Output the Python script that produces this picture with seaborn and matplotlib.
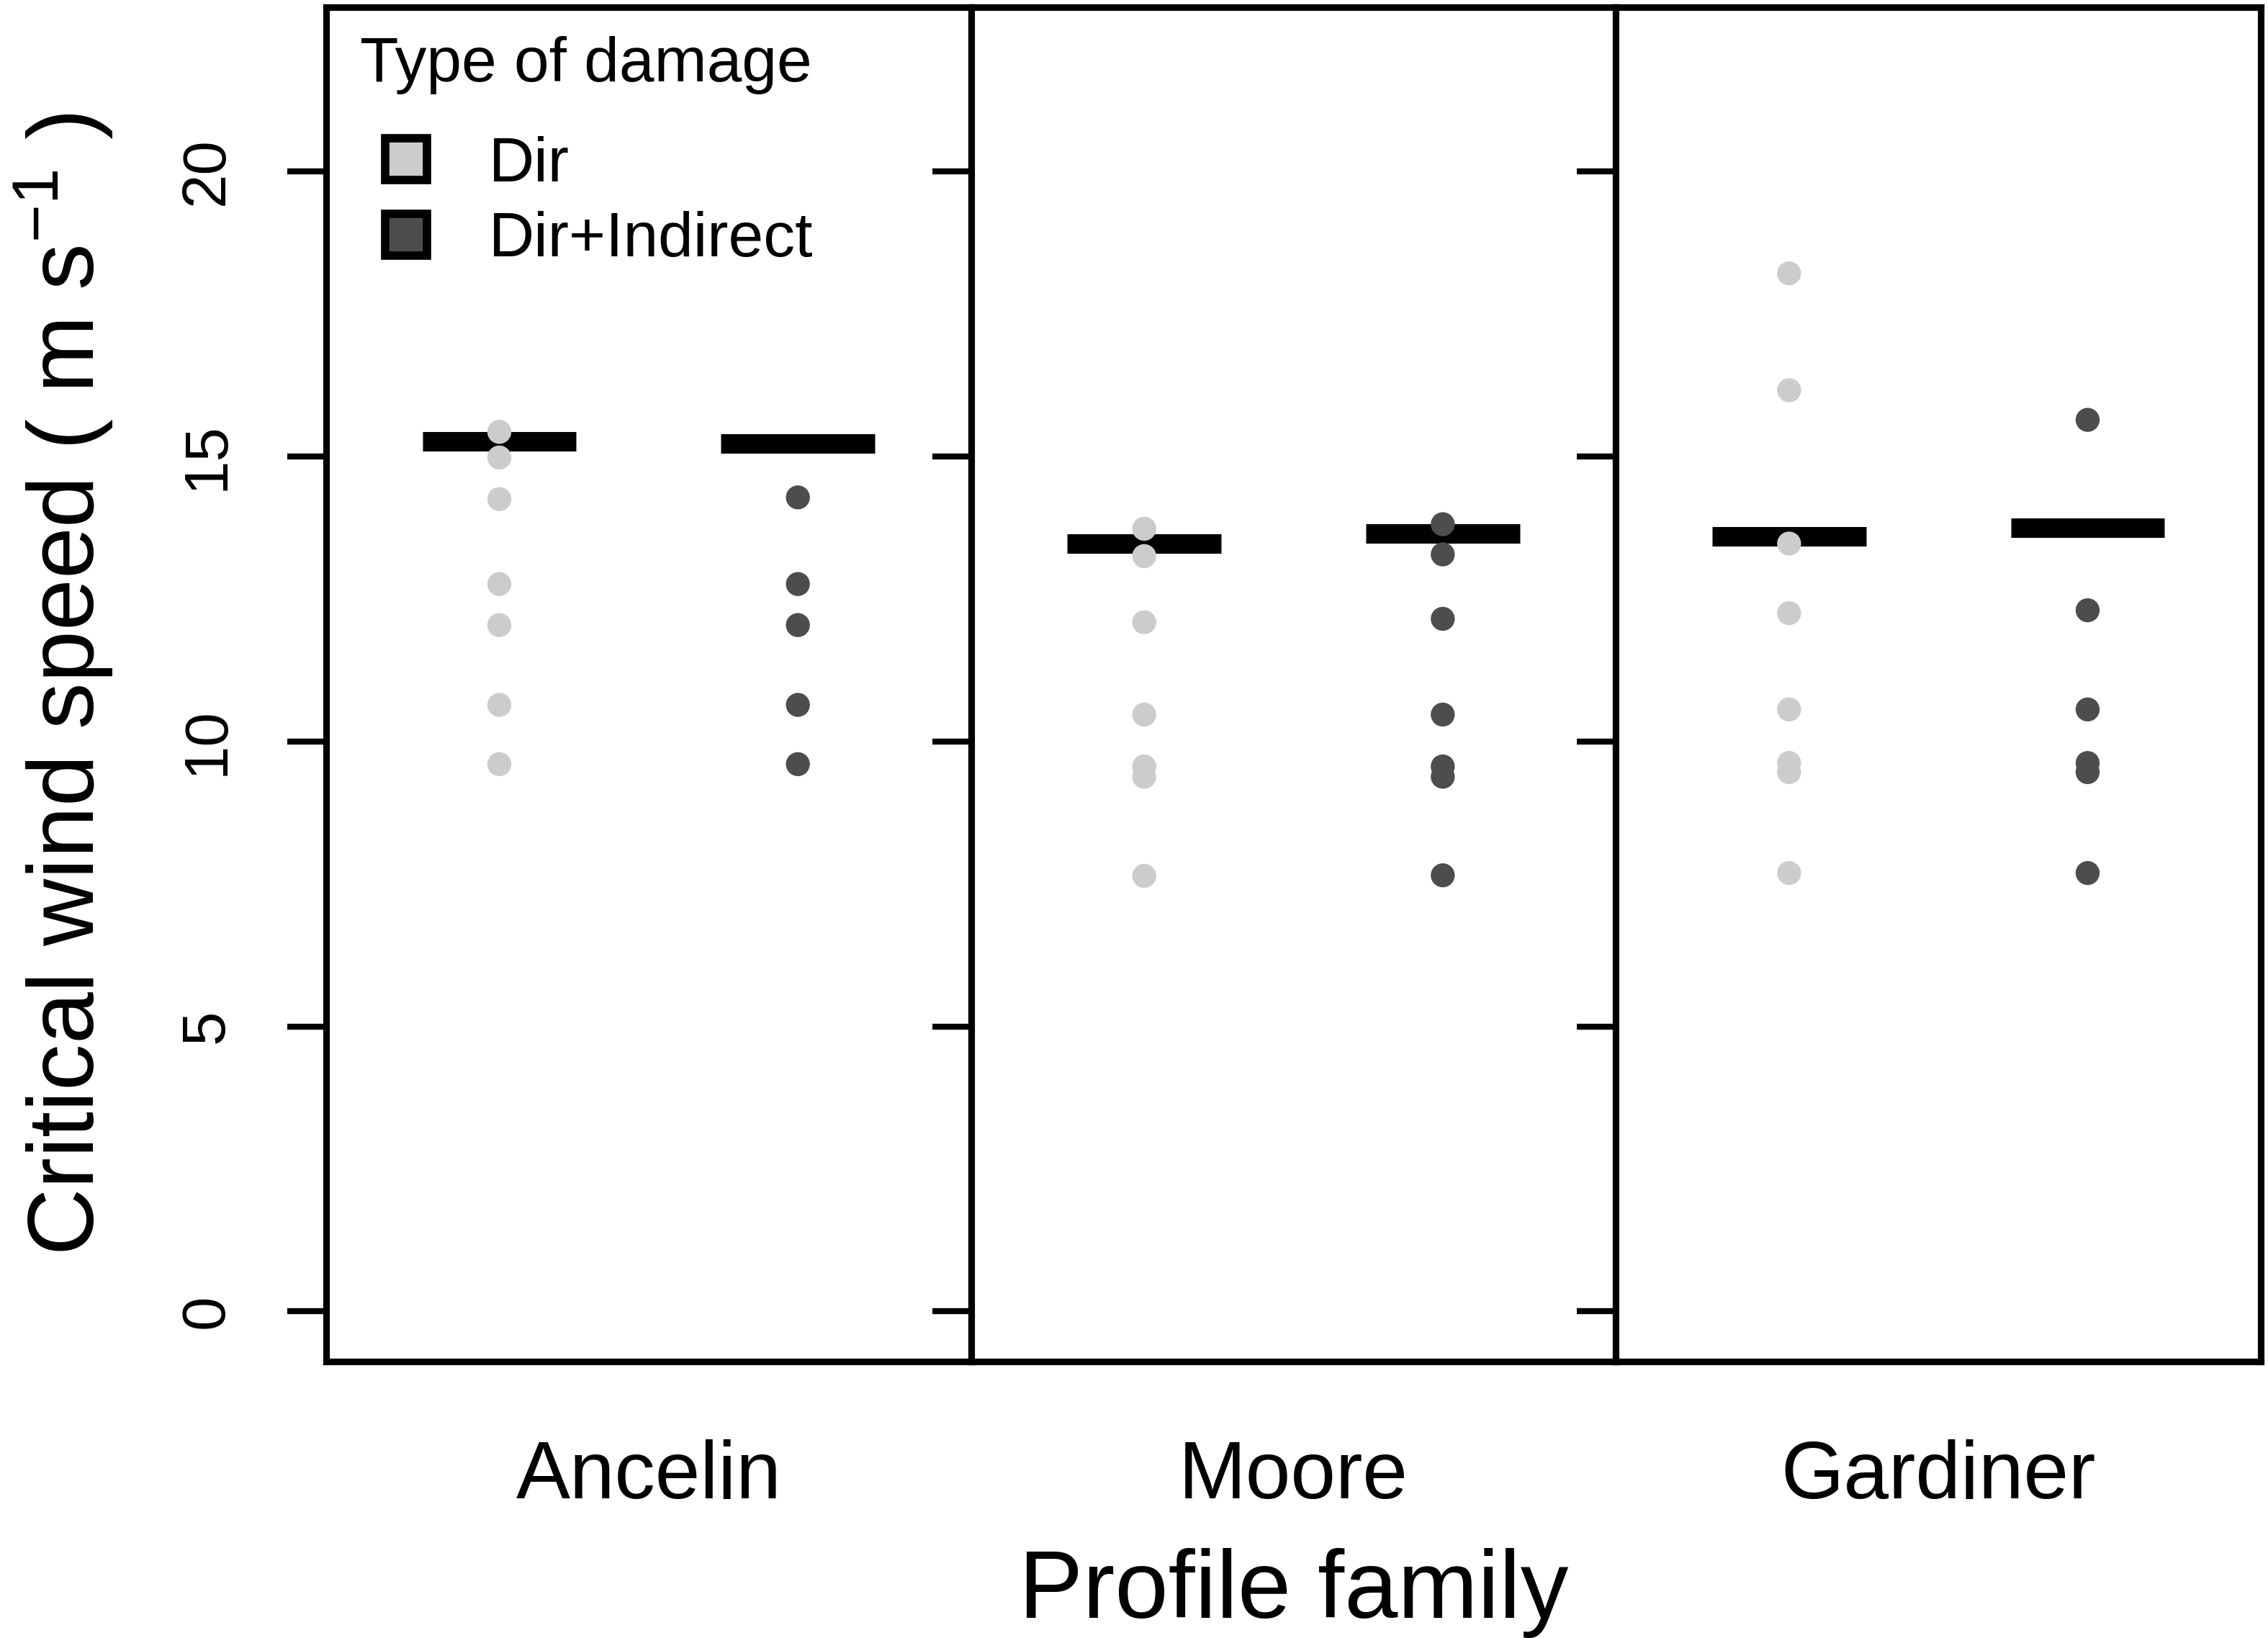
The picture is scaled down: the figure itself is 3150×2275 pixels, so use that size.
import numpy as np
import pandas as pd
import matplotlib
matplotlib.use("Agg")
import matplotlib.pyplot as plt
from matplotlib.lines import Line2D
import seaborn as sns

# ---------------- data ----------------
families = ["Ancelin", "Moore", "Gardiner"]
damage_types = ["Dir", "Dir+Indirect"]

ancelin_dir = [15.43, 14.98, 14.25, 12.76, 12.04, 10.64, 9.60]
ancelin_ind = [14.28, 12.76, 12.04, 10.64, 9.60]
moore_dir = [13.73, 13.25, 12.09, 10.47, 9.56, 9.38, 7.64]
moore_ind = [13.81, 13.28, 12.15, 10.47, 9.56, 9.38, 7.65]
gardiner_dir = [18.21, 16.16, 13.47, 12.25, 10.56, 9.62, 9.46, 7.69]
gardiner_ind = [15.64, 12.30, 10.56, 9.62, 9.46, 7.69]

# thick horizontal reference bars (one per family and damage type)
bar_dir = [15.26, 13.47, 13.60]
bar_ind = [15.23, 13.64, 13.75]

y_ticks = [0, 5, 10, 15, 20]
colors = {"Dir": "#cccccc", "Dir+Indirect": "#4d4d4d"}

rows = []
for fam, d, i in zip(families,
                     [ancelin_dir, moore_dir, gardiner_dir],
                     [ancelin_ind, moore_ind, gardiner_ind]):
    rows += [(fam, "Dir", v) for v in d]
    rows += [(fam, "Dir+Indirect", v) for v in i]
df = pd.DataFrame(rows, columns=["family", "type", "speed"])

# ---------------- style ----------------
sns.set_theme(style="ticks")
plt.rcParams["font.family"] = ["Liberation Sans", "DejaVu Sans"]
plt.rcParams["mathtext.fontset"] = "custom"
plt.rcParams["mathtext.rm"] = "Liberation Sans"
plt.rcParams["mathtext.it"] = "Liberation Sans"
for key in ["text.color", "axes.labelcolor", "xtick.color", "ytick.color",
            "axes.edgecolor", "xtick.labelcolor", "ytick.labelcolor"]:
    plt.rcParams[key] = "black"
plt.rcParams["axes.linewidth"] = 2.2

W, H, DPI = 3150, 2275, 300
fig = plt.figure(figsize=(W / DPI, H / DPI), dpi=DPI)
left, right, top, bottom = 453 / W, 3140 / W, 1 - 10 / H, 1 - 1891 / H
pw = (right - left) / 3
axes = [fig.add_axes([left + k * pw, bottom, pw, top - bottom]) for k in range(3)]

for k, (ax, fam) in enumerate(zip(axes, families)):
    sub = df[df["family"] == fam]
    for pos, val in enumerate([bar_dir[k], bar_ind[k]]):
        lc = ax.hlines(val, pos - 0.258, pos + 0.258, color="black",
                       linewidth=6.5, zorder=2)
        lc.set_capstyle("butt")
    sns.stripplot(data=sub, x="type", y="speed", hue="type", order=damage_types,
                  hue_order=damage_types, palette=colors, jitter=False,
                  size=8.0, linewidth=0, legend=False, ax=ax, zorder=3)
    ax.set_xlim(-0.58, 1.58)
    ax.set_ylim(-0.88, 22.88)
    ax.set_yticks(y_ticks)
    ax.tick_params(axis="x", bottom=False, labelbottom=False)
    ax.tick_params(axis="y", direction="out", length=13, width=2.0,
                   color="black", labelcolor="black", labelsize=20.5, pad=17)
    for sp in ax.spines.values():
        sp.set_visible(True)
        sp.set_linewidth(2.2)
        sp.set_color("black")
    ax.set_xlabel(fam, fontsize=27, labelpad=26, color="black")
    ax.set_ylabel("")
    if k == 0:
        for lab in ax.get_yticklabels():
            lab.set_rotation(90)
            lab.set_va("center")
            lab.set_ha("right")
        ax.set_ylabel("Critical wind speed ( m s$^{-1}$ )", fontsize=31,
                      labelpad=21, color="black")
    else:
        ax.tick_params(axis="y", labelleft=False)

fig.text((left + right) / 2, 0.0123, "Profile family", fontsize=32,
         ha="center", va="baseline", color="black")

handles = [Line2D([], [], linestyle="none", marker="s", markersize=14,
                  markerfacecolor=colors[t], markeredgecolor="black",
                  markeredgewidth=2.8) for t in damage_types]
leg = axes[0].legend(handles, damage_types, title="Type of damage",
                     loc="upper left", bbox_to_anchor=(0.051, 0.979),
                     frameon=False, fontsize=21, title_fontsize=21,
                     handlelength=1.5, handletextpad=0.56, labelspacing=0.27,
                     borderpad=0, borderaxespad=0)
leg._legend_box.sep = 14

fig.savefig("out.png", dpi=DPI, facecolor="white")
